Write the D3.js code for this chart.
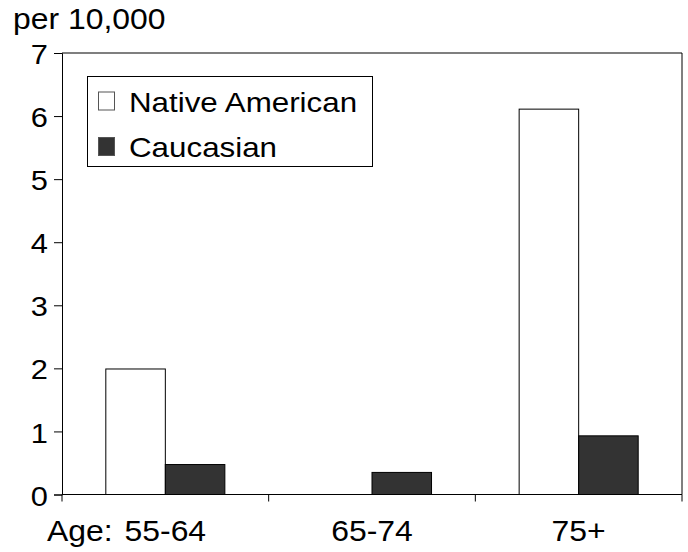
<!DOCTYPE html>
<html>
<head>
<meta charset="utf-8">
<script src="https://cdn.jsdelivr.net/npm/d3@7"></script>
<style>
  html, body { margin: 0; padding: 0; background: #fff; }
  svg { display: block; font-family: "Liberation Sans", Arial, sans-serif; }
</style>
</head>
<body>
<svg id="chart" width="688" height="552"></svg>
<script>
const categories = ["55-64", "65-74", "75+"];
const seriesNames = ["Native American", "Caucasian"];
const nativeAmerican = [1.99, 0.0, 6.11];
const caucasian = [0.475, 0.35, 0.93];
const yTicks = [0, 1, 2, 3, 4, 5, 6, 7];
const seriesColors = ["#ffffff", "#333333"];

const SX = 1.1; // horizontal text stretch seen in the reference
const svg = d3.select("#chart");
const margin = { left: 62, right: 6, top: 53, bottom: 57.5 };
const W = 688, H = 552;
const x0 = d3.scaleBand().domain(categories).range([margin.left, W - margin.right]).padding(0);
const x1 = d3.scaleBand().domain(seriesNames)
  .range([x0.bandwidth() * 0.212, x0.bandwidth() * 0.788]).padding(0);
const y = d3.scaleLinear().domain([0, 7]).range([H - margin.bottom, margin.top]);
const values = [nativeAmerican, caucasian];

function stretchedText(g, x, yy, size, txt, anchor) {
  return g.append("text")
    .attr("transform", `translate(${x},${yy}) scale(${SX},1)`)
    .attr("font-size", size).attr("fill", "#000")
    .attr("text-anchor", anchor || "start").text(txt);
}

// plot frame top and right lines
svg.append("line").attr("x1", margin.left).attr("x2", W - margin.right)
  .attr("y1", y(7)).attr("y2", y(7)).attr("stroke", "#000").attr("stroke-width", 1.2);
svg.append("line").attr("x1", W - margin.right).attr("x2", W - margin.right)
  .attr("y1", y(7)).attr("y2", y(0)).attr("stroke", "#000").attr("stroke-width", 1);

// bars
seriesNames.forEach((s, si) => {
  svg.append("g").selectAll("rect").data(categories).join("rect")
    .attr("x", c => x0(c) + x1(s))
    .attr("y", (c, i) => y(values[si][i]))
    .attr("width", x1.bandwidth())
    .attr("height", (c, i) => y(0) - y(values[si][i]))
    .attr("fill", seriesColors[si])
    .attr("stroke", "#000").attr("stroke-width", 1);
});

// y axis
const yAxis = d3.axisLeft(y).tickValues(yTicks).tickSize(8).tickPadding(6).tickFormat(d3.format("d"));
const gy = svg.append("g").attr("transform", `translate(${margin.left},0)`).call(yAxis);
gy.select(".domain").attr("stroke", "#000");
gy.selectAll(".tick line").attr("stroke", "#000");
gy.selectAll(".tick text").each(function () {
  const t = d3.select(this);
  const tx = +t.attr("x");
  t.attr("x", null).attr("dy", "0.38em")
    .attr("transform", `translate(${tx},0) scale(${SX},1)`)
    .attr("font-size", 28).attr("fill", "#000")
    .attr("font-family", "Liberation Sans, Arial, sans-serif");
});

// x axis (ticks at category boundaries)
svg.append("line").attr("x1", margin.left).attr("x2", W - margin.right)
  .attr("y1", y(0)).attr("y2", y(0)).attr("stroke", "#000").attr("stroke-width", 1.2);
const bounds = categories.map(c => x0(c)).concat([x0(categories[categories.length - 1]) + x0.bandwidth()]);
svg.append("g").selectAll("line").data(bounds).join("line")
  .attr("x1", d => d).attr("x2", d => d)
  .attr("y1", y(0)).attr("y2", y(0) + 7).attr("stroke", "#000");

const gx = svg.append("g");
categories.forEach(c => stretchedText(gx, x0(c) + x0.bandwidth() / 2, 541, 29, c, "middle"));
stretchedText(gx, 47, 541, 29, "Age:", "start");

// y title
stretchedText(svg, 13, 29, 29, "per 10,000", "start");

// legend
const lg = svg.append("g");
lg.append("rect").attr("x", 87.5).attr("y", 76.5).attr("width", 285).attr("height", 90)
  .attr("fill", "#fff").attr("stroke", "#000");
seriesNames.forEach((s, i) => {
  const cy = 101 + i * 45.5;
  lg.append("rect").attr("x", 98.5).attr("y", cy - 9).attr("width", 16).attr("height", 18)
    .attr("fill", seriesColors[i]).attr("stroke", "#555");
  stretchedText(lg, 129, cy + 10.7, 28.5, s, "start");
});
</script>
</body>
</html>
